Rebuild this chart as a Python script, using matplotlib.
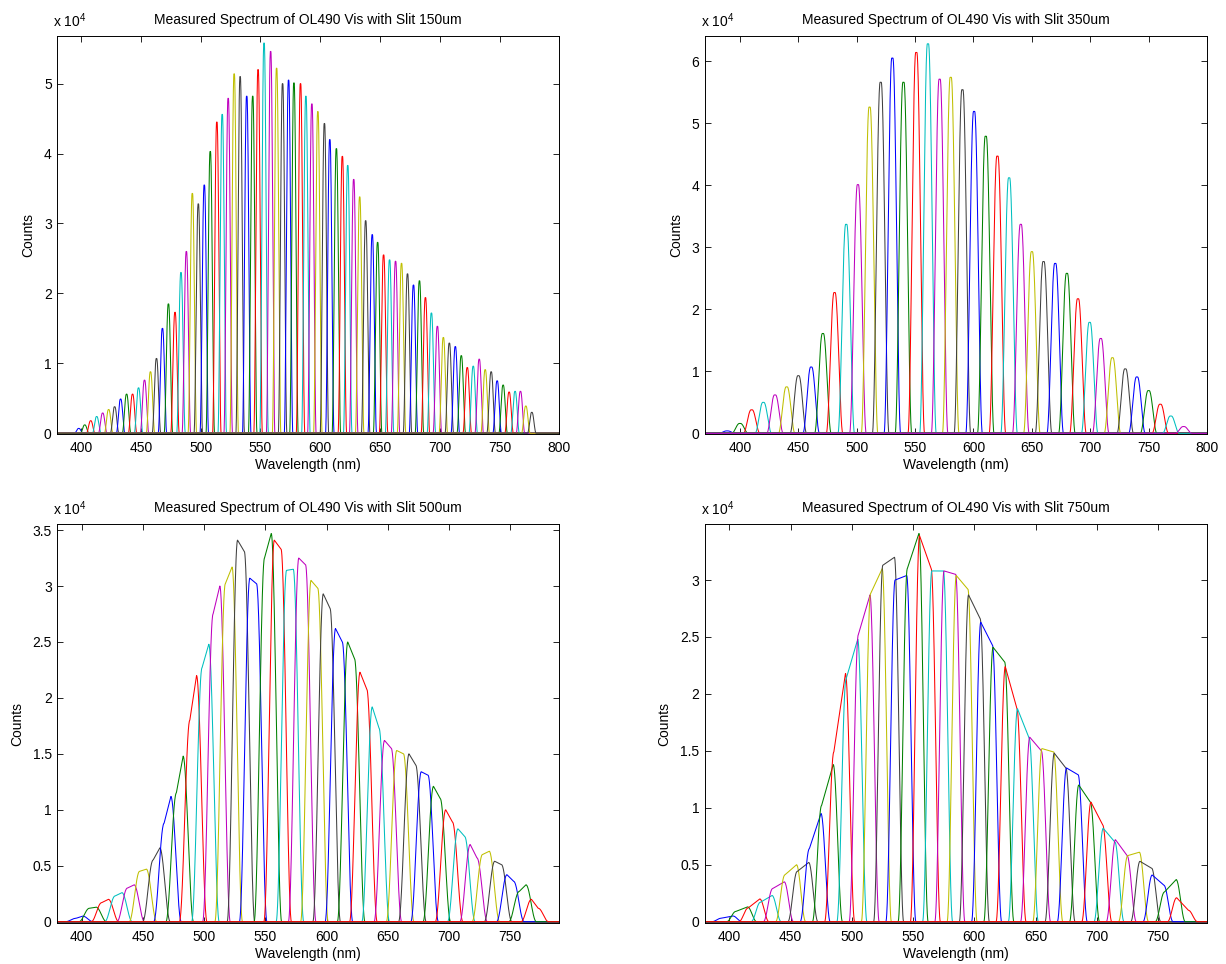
import numpy as np
import matplotlib
matplotlib.use("Agg")
import matplotlib.pyplot as plt
from matplotlib.ticker import FuncFormatter, MultipleLocator

plt.rcParams['font.family'] = ['Liberation Sans', 'DejaVu Sans']
plt.rcParams['font.size'] = 10
plt.rcParams['mathtext.default'] = 'regular'

# MATLAB default line colour order
COLORS = ['#0000ff', '#008000', '#ff0000', '#00bfbf', '#bf00bf', '#bfbf00', '#404040']

# Slit 150um: band centre (nm) and peak counts
CENTERS_150 = [398, 403, 408, 413, 418, 423, 428, 433, 438, 443, 448, 453, 458, 463,
               468, 473, 478.5, 483.5, 488, 493, 498, 503, 508, 513.5, 518, 523, 528,
               533, 538.5, 543.5, 548, 553, 558.5, 563.5, 568.5, 573.5, 578, 583.5,
               588, 593, 598, 603.5, 608, 613.5, 618.5, 623, 628, 633, 638, 643.5,
               648, 653, 658, 663, 668, 673, 678, 683, 688, 693, 698, 703, 708, 713,
               718, 723, 728, 733, 738, 743, 748, 753, 758, 763, 767.5, 772, 777]
PEAKS_150 = [700, 1200, 1800, 2400, 2900, 3400, 3800, 4900, 5600, 5600, 6500, 7600,
             8800, 10700, 15000, 18500, 17300, 23000, 26000, 34300, 32800, 35500,
             40300, 44500, 45600, 47900, 51400, 51000, 48200, 48200, 52000, 55800,
             54600, 52200, 50000, 50500, 50100, 50000, 48200, 47100, 46000, 44300,
             42000, 40700, 39600, 38300, 36300, 33800, 30400, 28400, 27300, 25500,
             24800, 24600, 24300, 22800, 21200, 21800, 19400, 17200, 15300, 13700,
             12900, 12400, 11100, 9400, 9600, 10600, 9100, 8800, 7500, 6900, 5900,
             6000, 6000, 3900, 3000]

# Slit 350um
CENTERS_350 = [389, 400, 410, 420, 430, 440, 450, 461, 471, 481, 491, 501, 511, 520.5,
               530.5, 540, 551, 561, 571, 580.5, 590.5, 600.5, 610.5, 620.5, 630.5,
               640.5, 650, 660, 670, 680, 689.5, 699.5, 709, 719, 730, 740, 750, 760,
               769, 780]
PEAKS_350 = [400, 1600, 3800, 5000, 6200, 7500, 9300, 10700, 16100, 22700, 33700,
             40100, 52600, 56600, 60500, 56600, 61400, 62800, 57100, 57400, 55400,
             51900, 47900, 44700, 41200, 33700, 29300, 27700, 27400, 25800, 21700,
             17900, 15300, 12200, 10400, 9100, 6900, 4700, 2800, 1100]

# Slit 500um: flat-topped bands, counts at the left and right end of each top
CENTERS_500 = [398, 409, 419, 430, 440, 450, 461, 470, 480, 491, 501, 510, 520, 530,
               540, 552, 560, 570, 580, 590, 600, 610, 620, 630, 640, 650, 660, 670,
               680, 690, 700, 710, 720, 730, 740, 750, 760, 770]
TOP_LEFT_500 = [300, 1200, 1700, 2300, 3000, 4500, 5500, 8800, 11500, 18000, 22700,
                27500, 30200, 34100, 30700, 32500, 34100, 31400, 32500, 30500, 29300,
                26200, 25000, 22300, 19200, 16200, 15300, 15000, 13400, 12100, 10000,
                8300, 6900, 6000, 5400, 4200, 2700, 2000]
TOP_RIGHT_500 = [500, 1300, 2000, 2600, 3300, 4700, 6600, 11200, 14800, 22000, 24800,
                 30000, 31700, 33100, 30200, 34700, 33300, 31500, 31900, 29800, 28000,
                 25000, 23500, 20800, 17300, 15500, 15000, 14000, 13100, 11000, 8900,
                 7600, 5700, 6300, 5100, 3600, 3300, 1200]

# Slit 750um
CENTERS_750 = [398, 410, 420, 430, 440, 450, 460, 470, 480, 490, 500, 510, 520, 530,
               540, 550, 560, 570, 580, 590, 600, 610, 620, 630, 640, 650, 660, 670,
               680, 690, 700, 710, 720, 730, 740, 750, 760, 770]
TOP_LEFT_750 = [300, 900, 1200, 1700, 2900, 4100, 4400, 6400, 10200, 14900, 21300,
                25200, 28800, 31300, 30000, 31000, 33900, 30800, 30800, 30400, 28700,
                26300, 24100, 22400, 18700, 16200, 15200, 14800, 13500, 12000, 10500,
                8200, 7200, 5800, 5300, 4100, 2600, 2100]
TOP_RIGHT_750 = [500, 1300, 2000, 2300, 3500, 5000, 5200, 9500, 13800, 21800, 24800,
                 28700, 31000, 32000, 30400, 34100, 31000, 30800, 30500, 29200, 26600,
                 24300, 22800, 18700, 16100, 15000, 14900, 13500, 12900, 10500, 8500,
                 7000, 5800, 6100, 4700, 3200, 3700, 1000]


def band(x, center, h_left, h_right, top, side):
    """Trapezoid band with cosine shoulders and a tilted top."""
    edge = (np.abs(x - center) - top / 2) / side
    shape = 0.5 * (1 + np.cos(np.pi * np.clip(edge, 0, 1)))
    frac = np.clip((x - (center - top / 2)) / top, 0, 1)
    return shape * (h_left + (h_right - h_left) * frac)


def draw_panel(rect, slit, centers, h_left, h_right, top, side, xlim, ylim, ystep):
    ax = fig.add_axes(rect)
    x = np.linspace(xlim[0], xlim[1], 3000)
    for i, c in enumerate(centers):
        y = band(x, c, h_left[i], h_right[i], top, side)
        ax.plot(x, y, color=COLORS[i % len(COLORS)], linewidth=0.75)

    ax.set_xlim(*xlim)
    ax.set_ylim(*ylim)
    ax.xaxis.set_major_locator(MultipleLocator(50))
    ax.yaxis.set_major_locator(MultipleLocator(ystep))
    ax.yaxis.set_major_formatter(FuncFormatter(lambda v, p: f'{v / 1e4:g}'))
    ax.tick_params(direction='in', top=True, right=True, length=4, width=0.6,
                   labelsize=10)
    ax.tick_params(axis='x', pad=5)
    ax.tick_params(axis='y', pad=4)
    for sp in ax.spines.values():
        sp.set_linewidth(0.7)

    ax.set_title(f'Measured Spectrum of OL490 Vis with Slit {slit}um', fontsize=10, pad=9)
    ax.set_xlabel('Wavelength (nm)', labelpad=2)
    ax.set_ylabel('Counts', labelpad=6)
    ax.text(-0.008, 1.016, r'x 10$^{4}$', transform=ax.transAxes,
            ha='left', va='bottom', fontsize=10)
    return ax


fig = plt.figure(figsize=(12.26, 9.64), dpi=100)

W, H = 0.4095, 0.4125
draw_panel([0.0467, 0.5498, W, H], 150, CENTERS_150, PEAKS_150, PEAKS_150,
           0.4, 3.4, (380, 800), (-100, 56760), 10000)
draw_panel([0.5750, 0.5498, W, H], 350, CENTERS_350, PEAKS_350, PEAKS_350,
           1.0, 6.6, (370, 800), (-100, 64000), 10000)
draw_panel([0.0467, 0.0425, W, 0.4139], 500, CENTERS_500, TOP_LEFT_500, TOP_RIGHT_500,
           5.5, 8.5, (380, 790), (-120, 35540), 5000)
draw_panel([0.5750, 0.0425, W, 0.4139], 750, CENTERS_750, TOP_LEFT_750, TOP_RIGHT_750,
           9.5, 7.5, (380, 790), (-120, 34920), 5000)

fig.savefig('out.png', dpi=100, facecolor='white')
